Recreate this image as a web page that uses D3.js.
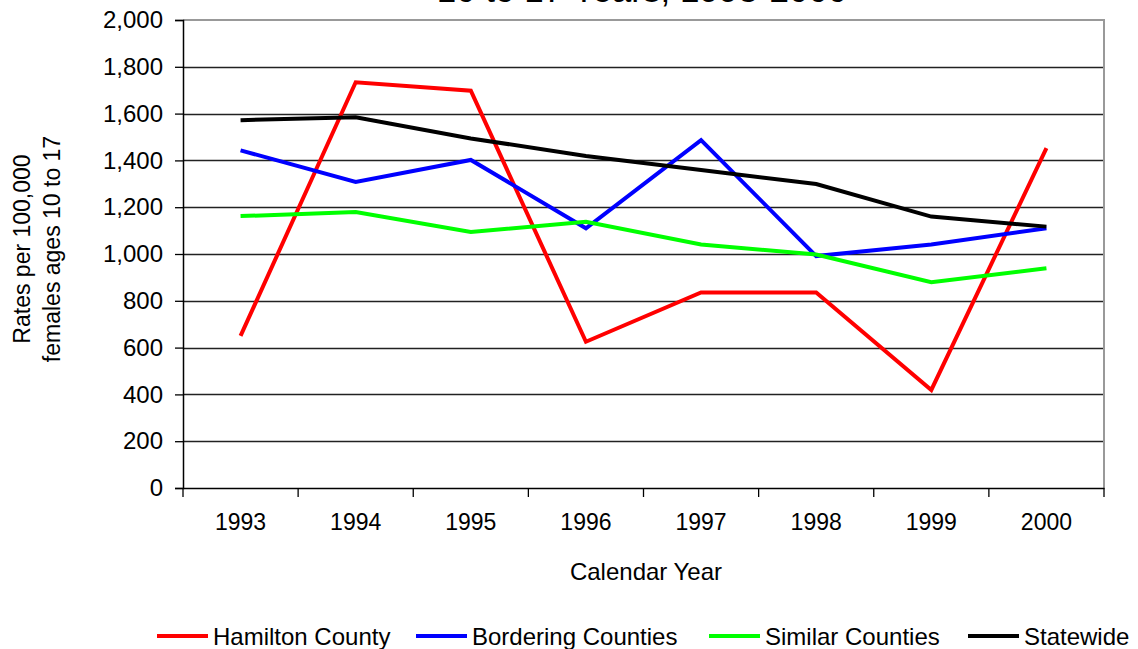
<!DOCTYPE html>
<html>
<head>
<meta charset="utf-8">
<script src="https://cdn.jsdelivr.net/npm/d3@7/dist/d3.min.js"></script>
<style>
  html, body { margin: 0; padding: 0; background: #fff; }
  svg { display: block; font-family: "Liberation Sans", Arial, sans-serif; }
</style>
</head>
<body>
<svg id="chart" width="1138" height="649"></svg>
<script>
// Rates per 100,000 females ages 10 to 17, by calendar year
const years = ["1993", "1994", "1995", "1996", "1997", "1998", "1999", "2000"];
const hamilton  = [650, 1734, 1698, 625, 836, 836, 419, 1452];
const bordering = [1443, 1308, 1402, 1110, 1487, 991, 1041, 1110];
const similar   = [1162, 1179, 1094, 1138, 1041, 998, 879, 939];
const statewide = [1572, 1584, 1494, 1419, 1359, 1299, 1160, 1117];
const yTicks = [0, 200, 400, 600, 800, 1000, 1200, 1400, 1600, 1800, 2000];
const seriesNames = ["Hamilton County", "Bordering Counties", "Similar Counties", "Statewide"];
const seriesColors = ["#ff0000", "#0000ff", "#00ff00", "#000000"];

const series = [hamilton, bordering, similar, statewide].map((vals, i) => ({
  name: seriesNames[i], color: seriesColors[i], values: vals
}));

const svg = d3.select("#chart");
const plot = { left: 183, right: 1104, top: 20, bottom: 488 };

const x = d3.scaleBand().domain(years).range([plot.left, plot.right]).padding(0);
const y = d3.scaleLinear().domain([0, 2000]).range([plot.bottom, plot.top]);
const cx = d => x(d) + x.bandwidth() / 2;

// Title (second line, partly above the top edge)
svg.append("text")
  .attr("x", 642).attr("y", 2)
  .attr("text-anchor", "middle")
  .attr("font-size", 35)
  .attr("fill", "#000")
  .text("10 to 17 Years, 1993-2000");

// Horizontal gridlines
svg.append("g").selectAll("line")
  .data(yTicks.filter(t => t > 0 && t < 2000))
  .join("line")
  .attr("x1", plot.left).attr("x2", plot.right)
  .attr("y1", d => Math.round(y(d)) + 0.5).attr("y2", d => Math.round(y(d)) + 0.5)
  .attr("stroke", "#222").attr("stroke-width", 1.3);

// Top and right frame
svg.append("path")
  .attr("d", `M${plot.left},${plot.top}H${plot.right}V${plot.bottom}`)
  .attr("fill", "none").attr("stroke", "#999").attr("stroke-width", 2);

// Y axis
const yAxis = svg.append("g")
  .attr("transform", `translate(${plot.left},0)`)
  .call(d3.axisLeft(y).tickValues(yTicks).tickFormat(d3.format(",")).tickSize(8).tickPadding(12));
yAxis.select(".domain").attr("stroke", "#000").attr("stroke-width", 1.5);
yAxis.selectAll(".tick line").attr("stroke", "#000").attr("stroke-width", 1.3);
yAxis.selectAll(".tick text").attr("font-size", 24).attr("fill", "#000")
  .attr("font-family", "'Liberation Sans', Arial, sans-serif");

// X axis: baseline, category boundary ticks, and labels
const xAxis = svg.append("g")
  .attr("transform", `translate(0,${plot.bottom})`)
  .call(d3.axisBottom(x).tickSize(0).tickPadding(26));
xAxis.select(".domain").attr("stroke", "#000").attr("stroke-width", 1.5);
xAxis.selectAll(".tick text").attr("font-size", 23).attr("fill", "#000")
  .attr("font-family", "'Liberation Sans', Arial, sans-serif");
const bounds = years.map(d => x(d)).concat([x(years[years.length - 1]) + x.bandwidth()]);
xAxis.append("g").selectAll("line").data(bounds).join("line")
  .attr("x1", d => d).attr("x2", d => d)
  .attr("y1", 0).attr("y2", 9)
  .attr("stroke", "#000").attr("stroke-width", 1.3);

// Axis titles
svg.append("text")
  .attr("x", 646).attr("y", 580)
  .attr("text-anchor", "middle").attr("font-size", 24)
  .text("Calendar Year");

const yTitle = svg.append("text")
  .attr("transform", "translate(0,249) rotate(-90)")
  .attr("text-anchor", "middle").attr("font-size", 23);
yTitle.append("tspan").attr("x", 0).attr("y", 30).text("Rates per 100,000");
yTitle.append("tspan").attr("x", 0).attr("y", 60).text("females ages 10 to 17");

// Series lines
const line = d3.line()
  .x((d, i) => cx(years[i]))
  .y(d => y(d));

svg.append("g").selectAll("path")
  .data(series)
  .join("path")
  .attr("d", s => line(s.values))
  .attr("fill", "none")
  .attr("stroke", s => s.color)
  .attr("stroke-width", 4)
  .attr("stroke-linejoin", "miter");

// Legend
const legendY = 636;
const legendStarts = [157, 416, 709, 968];
const legend = svg.append("g");
series.forEach((s, i) => {
  const g = legend.append("g").attr("transform", `translate(${legendStarts[i]},${legendY})`);
  g.append("line").attr("x1", 0).attr("x2", 51).attr("y1", 0).attr("y2", 0)
    .attr("stroke", s.color).attr("stroke-width", 4);
  g.append("text").attr("x", 56).attr("y", 9).attr("font-size", 24).text(s.name);
});
</script>
</body>
</html>
